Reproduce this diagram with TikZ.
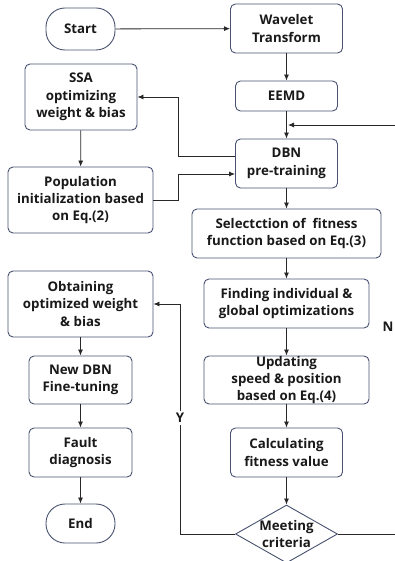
\documentclass[tikz,border=0pt]{standalone}
\usepackage{fontspec}
\setmainfont{Open Sans}
\usetikzlibrary{arrows.meta,shapes.geometric,calc}
\definecolor{edge}{RGB}{72,82,112}
\definecolor{ink}{RGB}{25,25,25}
\definecolor{wire}{RGB}{40,40,40}
\begin{document}
\begin{tikzpicture}[x=1pt,y=-1pt,
  every node/.style={font=\fontsize{13.3}{17.3}\selectfont\bfseries, text=ink, align=center, inner sep=0pt},
  box/.style={draw=edge, line width=0.9pt, rounded corners=5pt},
  term/.style={draw=edge, line width=0.9pt, rounded corners=19pt},
  flow/.style={-{Latex[length=6pt,width=5pt]}, draw=wire, line width=0.8pt}]
\useasboundingbox (0,0) rectangle (395,561);

% left column
\node[term, minimum width=69, minimum height=42] (start) at (80.5,29) {Start};
\node[box, minimum width=112, minimum height=66] (ssa) at (81,97) {SSA\\optimizing\\weight \& bias};
\node[box, minimum width=145, minimum height=66] (pop) at (80.5,200) {Population\\initialization based\\on Eq.(2)};
\node[box, minimum width=145, minimum height=66] (obt) at (80.5,304) {Obtaining\\optimized weight\\\& bias};
\node[box, minimum width=103, minimum height=48] (newdbn) at (80.5,380) {New DBN\\Fine-tuning};
\node[box, minimum width=103, minimum height=49] (fault) at (80.5,452.5) {Fault\\diagnosis};
\node[term, minimum width=69, minimum height=39] (end) at (80.5,523.5) {End};

% right column
\node[box, minimum width=112, minimum height=49] (wave) at (286.5,28.5) {Wavelet\\Transform};
\node[box, minimum width=102, minimum height=30] (eemd) at (286.5,96) {EEMD};
\node[box, minimum width=102, minimum height=49] (dbn) at (286.5,163.5) {DBN\\pre-training};
\node[box, minimum width=189, minimum height=49] (sel) at (286.5,233.5) {Selectction of~ fitness\\function based on Eq.(3)};
\node[box, minimum width=165, minimum height=49] (find) at (286.5,303.5) {Finding individual \&\\global optimizations};
\node[box, minimum width=165, minimum height=48] (upd) at (286.5,380) {Updating\\speed \& position\\based on Eq.(4)};
\node[box, minimum width=112, minimum height=49] (calc) at (286.5,452.5) {Calculating\\fitness value};
\node[diamond, draw=edge, line width=0.9pt, minimum width=102, minimum height=58] (crit) at (286.5,534) {};
\node (critlbl) at (crit) {Meeting\\criteria};

% bend points of the routed connectors
\coordinate (j1) at (178,97);
\coordinate (j2) at (178,174);
\coordinate (j3) at (180,304);
\coordinate (j4) at (420,534);
\coordinate (j5) at (420,125);
\coordinate (j6) at (288,125);

% straight flow
\draw[flow] (start) -- (wave);
\draw[flow] (wave) -- (eemd);
\draw[flow] (eemd) -- (dbn);
\draw[flow] (dbn) -- (sel);
\draw[flow] (sel) -- (find);
\draw[flow] (find) -- (upd);
\draw[flow] (upd) -- (calc);
\draw[flow] (calc) -- (crit);
\draw[flow] (ssa) -- (pop);
\draw[flow] (obt) -- (newdbn);
\draw[flow] (newdbn) -- (fault);
\draw[flow] (fault) -- (end);

% routed connectors
\draw[flow] ($(dbn.west)+(0,-7.5)$) -| (j1) -- (ssa.east);
\draw[flow] (pop.east) -| (j2) -- ($(dbn.west)+(0,10.5)$);
\draw[flow] (crit.west) -| (j3) -- (obt.east);
\draw[flow] (crit.east) -- (j4) -- (j5) -- (j6);

% branch labels
\node[fill=white, inner sep=2pt] (ylbl) at (180,418) {Y};
\node (nlbl) at (388,327) {N};
\end{tikzpicture}
\end{document}
